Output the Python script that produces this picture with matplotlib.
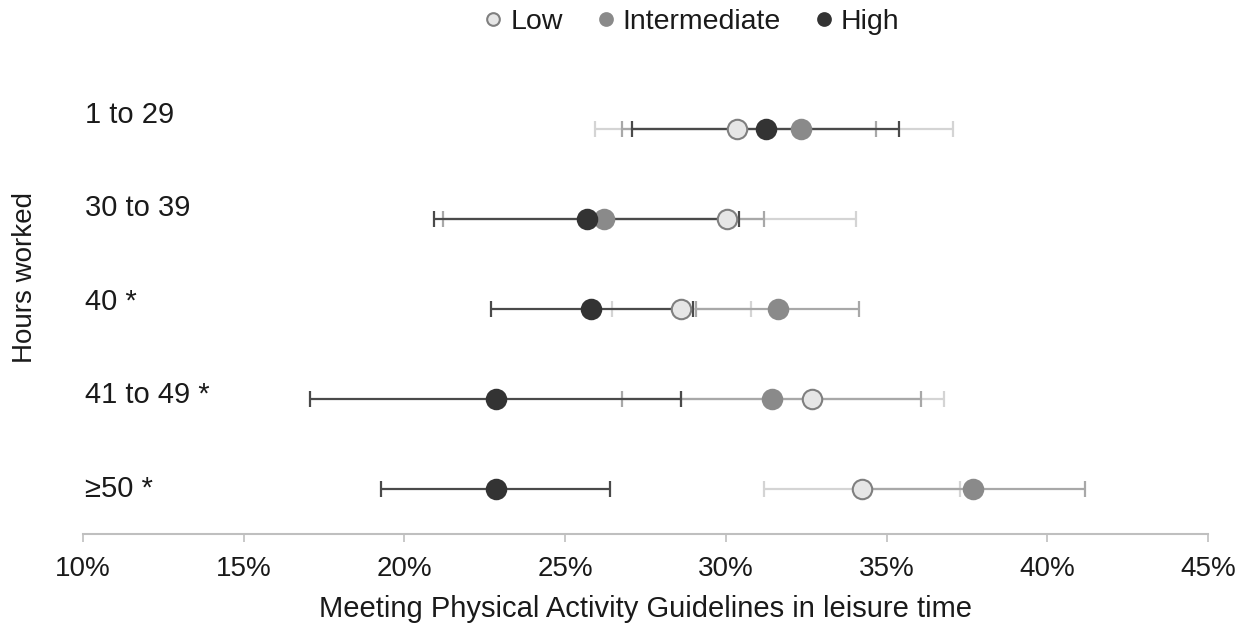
import matplotlib.pyplot as plt
import matplotlib.transforms as mtransforms
from matplotlib.ticker import FuncFormatter

plt.rcParams['font.family'] = ['Liberation Sans', 'DejaVu Sans']

# categories (top to bottom)
categories = ['1 to 29', '30 to 39', '40 *', '41 to 49 *', '≥50 *']

# % meeting guidelines, with lower / upper CI bounds
low = [30.35, 30.03, 28.61, 32.68, 34.24]
low_lo = [25.93, 26.01, 26.45, 28.60, 31.20]
low_hi = [37.07, 34.05, 30.77, 36.78, 37.30]

inter = [32.34, 26.22, 31.61, 31.43, 37.70]
inter_lo = [26.77, 21.21, 29.07, 26.76, 34.22]
inter_hi = [34.67, 31.18, 34.15, 36.07, 41.18]

high = [31.25, 25.67, 25.81, 22.86, 22.85]
high_lo = [27.07, 20.92, 22.68, 17.05, 19.27]
high_hi = [35.39, 30.40, 28.97, 28.60, 26.40]

ypos = list(range(len(categories), 0, -1))

fig = plt.figure(figsize=(12.51, 6.33), dpi=100)
ax = fig.add_axes([0.0663, 0.1564, 0.8993, 0.7109])

series = [
    ('Low', low, low_lo, low_hi, '#e6e6e6', '#7f7f7f', '#d4d4d4'),
    ('Intermediate', inter, inter_lo, inter_hi, '#8a8a8a', '#8a8a8a', '#a8a8a8'),
    ('High', high, high_lo, high_hi, '#333333', '#333333', '#4a4a4a'),
]

# error bars first, markers on top
for name, vals, lo, hi, fc, ec, bc in series:
    xerr = [[v - l for v, l in zip(vals, lo)], [h - v for v, h in zip(vals, hi)]]
    ax.errorbar(vals, ypos, xerr=xerr, fmt='none', ecolor=bc, elinewidth=1.6,
                capsize=5.5, capthick=1.6, zorder=2)

for name, vals, lo, hi, fc, ec, bc in series:
    ax.plot(vals, ypos, linestyle='none', marker='o', markersize=14,
            markerfacecolor=fc, markeredgecolor=ec, markeredgewidth=1.5,
            label=name, zorder=3)

ax.set_xlim(10, 45)
ax.set_ylim(0.5, 5.5)
ax.set_xticks([10, 15, 20, 25, 30, 35, 40, 45])
ax.xaxis.set_major_formatter(FuncFormatter(lambda v, p: '{:.0f}%'.format(v)))
ax.tick_params(axis='x', length=6, width=1.2, color='#bfbfbf', labelsize=20,
               labelcolor='#1a1a1a', pad=10)
ax.set_yticks([])
for s in ['top', 'right', 'left']:
    ax.spines[s].set_visible(False)
ax.spines['bottom'].set_color('#bfbfbf')
ax.spines['bottom'].set_linewidth(1.5)

# category labels sit inside the plot, left aligned, slightly above their rows
trans = mtransforms.blended_transform_factory(ax.transAxes, ax.transData)
for y, lab in zip(ypos, categories):
    ax.text(0.002, y + 0.039 * (y - 1), lab, transform=trans, ha='left', va='center',
            fontsize=21, color='#1a1a1a')

ax.set_xlabel('Meeting Physical Activity Guidelines in leisure time',
              fontsize=21, color='#1a1a1a', labelpad=9)
fig.text(25 / 1251, 1 - 278 / 633, 'Hours worked', rotation=90,
         ha='center', va='center', fontsize=20, color='#1a1a1a')

handles, labels = ax.get_legend_handles_labels()
leg = fig.legend(handles, labels, loc='center', bbox_to_anchor=(692 / 1251, 1 - 22 / 633),
                 ncol=3, frameon=False, fontsize=20.5, handlelength=0.6,
                 handletextpad=0.3, columnspacing=1.2, markerscale=0.65)
for t in leg.get_texts():
    t.set_color('#1a1a1a')

plt.savefig('out.png', dpi=100)
